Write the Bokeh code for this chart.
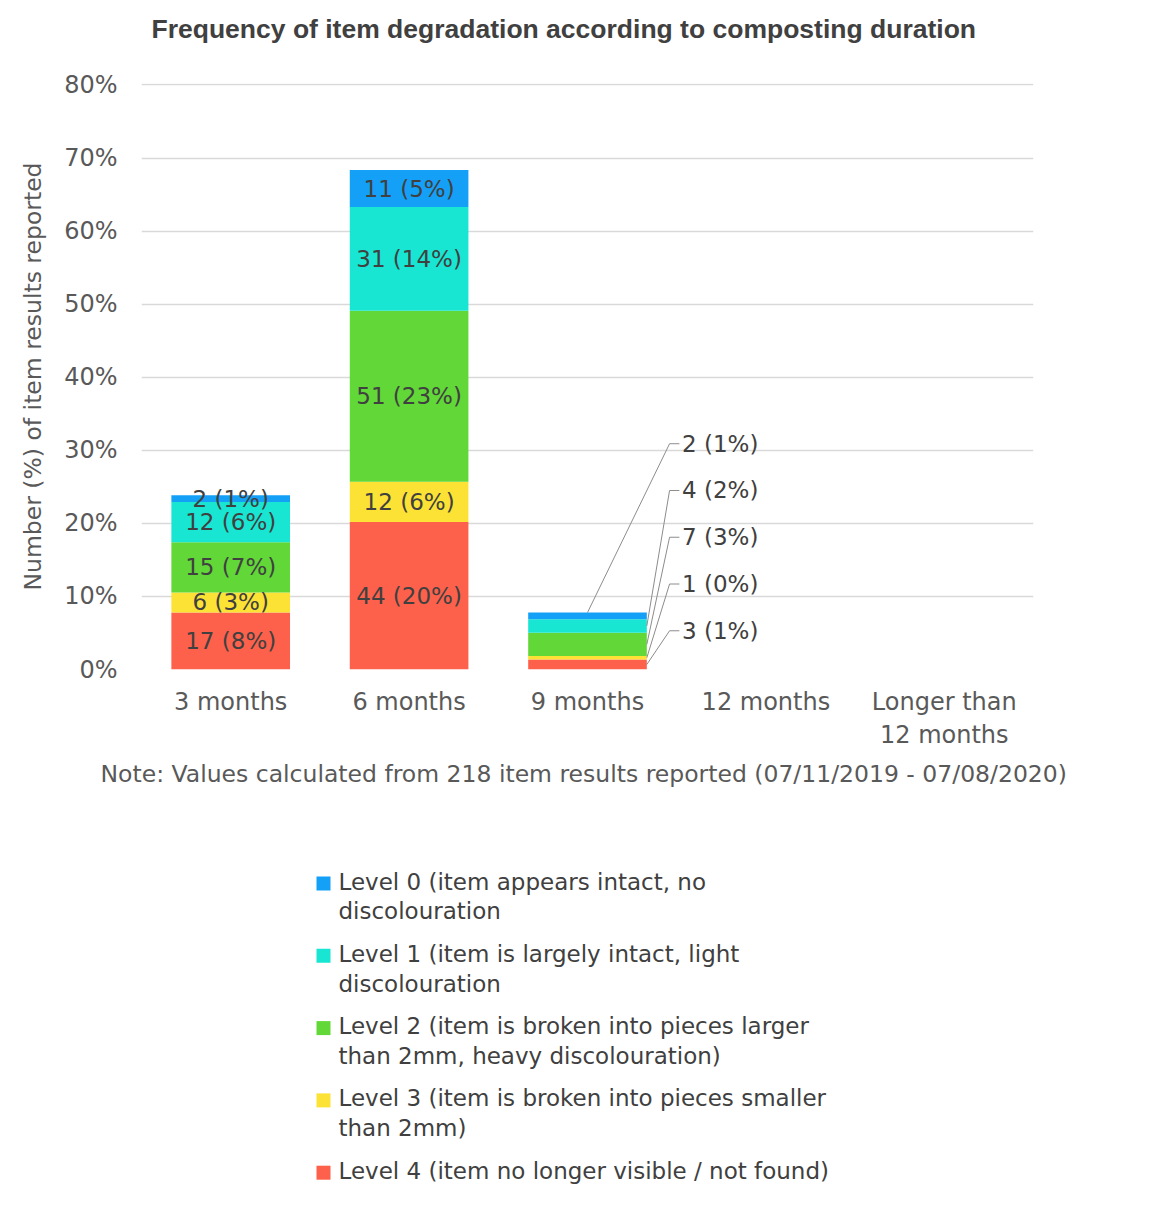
from bokeh.plotting import figure
from bokeh.layouts import column
from bokeh.models import ColumnDataSource, Range1d, FixedTicker, Title
from bokeh.core.properties import value
from bokeh.embed import file_html
from bokeh.resources import INLINE

# ---------------- data ----------------
categories = ["3 months", "6 months", "9 months", "12 months", "Longer than\n12 months"]
level0 = [2, 11, 2, 0, 0]
level1 = [12, 31, 4, 0, 0]
level2 = [15, 51, 7, 0, 0]
level3 = [6, 12, 1, 0, 0]
level4 = [17, 44, 3, 0, 0]
total_items = 218
level_names = [
    "Level 0 (item appears intact, no\ndiscolouration",
    "Level 1 (item is largely intact, light\ndiscolouration",
    "Level 2 (item is broken into pieces larger\nthan 2mm, heavy discolouration)",
    "Level 3 (item is broken into pieces smaller\nthan 2mm)",
    "Level 4 (item no longer visible / not found)",
]
level_colors = ["#14a0f7", "#18e6d2", "#61d837", "#fce234", "#fe614b"]
y_ticks = [0, 10, 20, 30, 40, 50, 60, 70, 80]
y_tick_labels = ["0%", "10%", "20%", "30%", "40%", "50%", "60%", "70%", "80%"]
title_text = "Frequency of item degradation according to composting duration"
y_label = "Number (%) of item results reported"
note_text = "Note: Values calculated from 218 item results reported (07/11/2019 - 07/08/2020)"

FONT = "DejaVu Sans"
TFONT = "Liberation Sans"
TXT = "#404040"
GRAY = "#595959"

# stack order bottom -> top
stack_counts = [level4, level3, level2, level1, level0]
stack_colors = [level_colors[4], level_colors[3], level_colors[2], level_colors[1], level_colors[0]]
stack_keys = ["L4", "L3", "L2", "L1", "L0"]

xs = list(range(len(categories)))
data = {"x": xs}
for k, counts in zip(stack_keys, stack_counts):
    data[k] = [c / total_items * 100 for c in counts]
src = ColumnDataSource(data)

BAR_W = 0.665
ML, MR = 141, 111
W = 1144

p = figure(width=W, height=800, x_range=Range1d(-0.5, len(categories) - 0.5),
           y_range=Range1d(0, 80.2), output_backend="svg", toolbar_location=None,
           min_border_left=ML, min_border_right=MR, min_border_top=83, min_border_bottom=131)
p.outline_line_color = None
p.background_fill_color = "white"

p.vbar_stack(stack_keys, x="x", width=BAR_W, color=stack_colors, line_color=None, source=src)

# in-bar labels and callouts
lab_x, lab_y, lab_t = [], [], []
co_x, co_y, co_t = [], [], []
lead_xs, lead_ys = [], []
for i in xs:
    tot = sum(data[k][i] for k in stack_keys)
    if tot == 0:
        continue
    nonzero = [j for j, counts in enumerate(stack_counts) if counts[i] > 0]
    cum = 0.0
    seg = {}
    for j, k in enumerate(stack_keys):
        v = data[k][i]
        seg[j] = (cum, cum + v)
        cum += v
    for idx, j in enumerate(nonzero):
        c = stack_counts[j][i]
        txt = f"{c} ({int(c / total_items * 100 + 0.5)}%)"
        lo, hi = seg[j]
        mid = (lo + hi) / 2
        if tot >= 10:
            lab_x.append(i); lab_y.append(mid); lab_t.append(txt)
        else:
            ly = 5.3 + 6.4 * idx
            co_x.append(i + 0.53); co_y.append(ly); co_t.append(txt)
            if j == nonzero[-1]:
                ex, ey = i, hi
            else:
                ex, ey = i + BAR_W / 2, mid
            lead_xs.append([i + 0.515, i + 0.46, ex])
            lead_ys.append([ly, ly, ey])

p.multi_line(lead_xs, lead_ys, line_color="#8c8c8c", line_width=1)
p.text(lab_x, lab_y, text=lab_t, text_font=value(FONT), text_font_size="23px",
       text_color=TXT, text_align="center", text_baseline="middle")
p.text(co_x, co_y, text=co_t, text_font=value(FONT), text_font_size="23px",
       text_color=TXT, text_align="left", text_baseline="middle")

# axes
p.xgrid.grid_line_color = None
p.ygrid.grid_line_color = "#d9d9d9"
p.ygrid.grid_line_width = 1.5
p.ygrid.ticker = FixedTicker(ticks=y_ticks)

p.yaxis.ticker = FixedTicker(ticks=y_ticks)
p.yaxis.major_label_overrides = {t: l for t, l in zip(y_ticks, y_tick_labels)}
p.yaxis.axis_line_color = None
p.yaxis.major_tick_line_color = None
p.yaxis.minor_tick_line_color = None
p.yaxis.major_tick_out = 0
p.yaxis.major_label_standoff = 24
p.yaxis.major_label_text_font = FONT
p.yaxis.major_label_text_font_size = "24px"
p.yaxis.major_label_text_color = GRAY
p.yaxis.axis_label = y_label
p.yaxis.axis_label_text_font = FONT
p.yaxis.axis_label_text_font_size = "23.5px"
p.yaxis.axis_label_text_font_style = "normal"
p.yaxis.axis_label_text_color = GRAY
p.yaxis.axis_label_standoff = 14

p.xaxis.ticker = FixedTicker(ticks=xs)
p.xaxis.major_label_overrides = {i: c for i, c in zip(xs, categories)}
p.xaxis.axis_line_color = None
p.xaxis.major_tick_line_color = None
p.xaxis.minor_tick_line_color = None
p.xaxis.major_tick_out = 0
p.xaxis.major_label_standoff = 18
p.xaxis.major_label_text_font = FONT
p.xaxis.major_label_text_font_size = "24px"
p.xaxis.major_label_text_color = GRAY

# spacer panel between the frame and the title
p.add_layout(Title(text=" ", text_font=TFONT, text_font_size="10px", standoff=22), "above")
p.title = Title(text=title_text, text_font=TFONT, text_font_size="26.5px", text_font_style="bold",
                text_color=TXT, align="left", offset=10, standoff=10, vertical_align="bottom")
p.add_layout(Title(text=note_text, text_font=FONT, text_font_size="23.5px", text_font_style="normal",
                   text_color=GRAY, align="left", offset=-41, standoff=11), "below")

# ---------------- legend figure ----------------
LH = 415
lg = figure(width=W, height=LH, x_range=Range1d(ML, W - MR), y_range=Range1d(LH, 0),
            output_backend="svg", toolbar_location=None,
            min_border_left=ML, min_border_right=MR, min_border_top=0, min_border_bottom=0,
            x_axis_location=None, y_axis_location=None)
lg.grid.visible = False
lg.outline_line_color = None
rows = [83 + 72.3 * k for k in range(len(level_names))]
lg.scatter([323] * len(rows), rows, marker="square", size=14, color=level_colors, line_color=None)
lg.text([338] * len(rows), [r - 15 for r in rows], text=level_names, text_font=value(FONT),
        text_font_size="23px", text_color=TXT, text_align="left", text_baseline="top",
        text_line_height=1.15)

layout = column(p, lg, spacing=0)
open("out.html", "w").write(file_html(layout, INLINE))
